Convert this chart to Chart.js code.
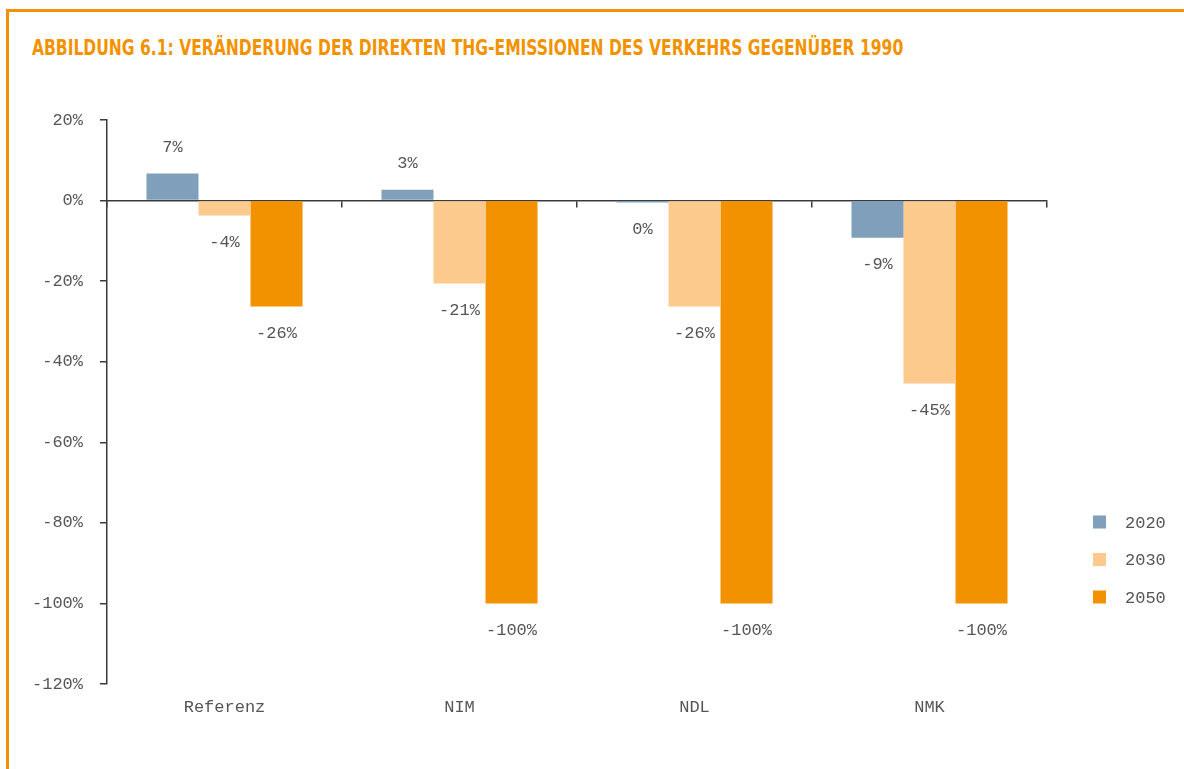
<!DOCTYPE html>
<html lang="de">
<head>
<meta charset="utf-8">
<title>Abbildung 6.1</title>
<script src="https://cdn.jsdelivr.net/npm/chart.js@4/dist/chart.umd.min.js"></script>
<style>
  html, body { margin: 0; padding: 0; background: #fff; }
  body { width: 1184px; height: 769px; position: relative; overflow: hidden; }
  .frame {
    position: absolute; left: 6px; top: 9px; right: 0; bottom: 0;
    border-top: 3px solid #F39200; border-left: 3px solid #F39200;
  }
  h1 {
    position: absolute; left: 32px; top: 37px; margin: 0;
    font: bold 22px/22px 'Liberation Sans Narrow', 'DejaVu Sans Condensed', sans-serif;
    font-stretch: condensed;
    color: #F39200; white-space: nowrap; transform-origin: 0 0;
  }
  #chart { position: absolute; left: 0; top: 0; }
</style>
</head>
<body>
<div class="frame"></div>
<h1 id="title">ABBILDUNG 6.1: VERÄNDERUNG DER DIREKTEN THG-EMISSIONEN DES VERKEHRS GEGENÜBER 1990</h1>
<canvas id="chart" width="1184" height="769"></canvas>
<script>
// squeeze the headline to its fixed width
const title = document.getElementById("title");
title.style.transform = "scaleX(" + (871 / title.offsetWidth) + ")";

// =======================
// Data
// =======================

const categories = ["Referenz", "NIM", "NDL", "NMK"];
const years = ["2020", "2030", "2050"];
const values2020 = [6.7, 2.7, -0.5, -9.2];
const values2030 = [-3.7, -20.6, -26.3, -45.4];
const values2050 = [-26.3, -100, -100, -100];
const yTicks = [20, 0, -20, -40, -60, -80, -100, -120];

const colors = ["#7F9FBA", "#FDCA8E", "#F39200"];
const textFont = { family: "'Liberation Mono', monospace", size: 17 };
const textColor = "#555555";
const axisColor = "#3a3a3a";

// =======================
// Plugins
// =======================

// percent labels above / below each bar end
const valueLabels = {
  id: "valueLabels",
  afterDatasetsDraw(chart) {
    const ctx = chart.ctx;
    ctx.save();
    ctx.font = textFont.size + "px " + textFont.family;
    ctx.fillStyle = textColor;
    ctx.textAlign = "center";
    ctx.textBaseline = "middle";
    chart.data.datasets.forEach((ds, i) => {
      chart.getDatasetMeta(i).data.forEach((bar, j) => {
        const v = ds.data[j];
        const y = v >= 0 ? bar.y - 26 : bar.y + 27;
        ctx.fillText(Math.round(v) + "%", bar.x, y);
      });
    });
    ctx.restore();
  }
};

// legend stacked at the lower right
const sideLegend = {
  id: "sideLegend",
  afterDraw(chart) {
    const ctx = chart.ctx;
    ctx.save();
    ctx.font = textFont.size + "px " + textFont.family;
    ctx.textBaseline = "middle";
    ctx.textAlign = "left";
    chart.data.datasets.forEach((ds, i) => {
      const y = 522 + i * 37.5;
      ctx.fillStyle = ds.backgroundColor;
      ctx.fillRect(1093, y - 6.5, 13, 13);
      ctx.fillStyle = textColor;
      ctx.fillText(ds.label, 1125, y + 1);
    });
    ctx.restore();
  }
};

// =======================
// Bar Chart
// =======================

const chartEl = document.getElementById("chart");

new Chart(chartEl, {
  type: "bar",
  data: {
    labels: categories,
    datasets: [
      { label: years[0], data: values2020, backgroundColor: colors[0] },
      { label: years[1], data: values2030, backgroundColor: colors[1] },
      { label: years[2], data: values2050, backgroundColor: colors[2] }
    ]
  },
  options: {
    responsive: false,
    animation: false,
    devicePixelRatio: 1,
    categoryPercentage: 0.664,
    barPercentage: 1,
    layout: { padding: { top: 120, right: 137, bottom: 0, left: 0 } },
    plugins: {
      legend: { display: false },
      tooltip: { enabled: false }
    },
    scales: {
      x: {
        position: "bottom",
        grid: { display: false },
        border: { display: false },
        ticks: { font: textFont, color: textColor, padding: 5 },
        afterFit(scale) { scale.height = 85; }
      },
      x2: {
        type: "category",
        labels: categories,
        position: { y: 0 },
        offset: true,
        grid: { offset: true, drawOnChartArea: false, tickLength: 6, color: axisColor, lineWidth: 1.5 },
        border: { display: true, color: axisColor, width: 1.5 },
        ticks: { display: false }
      },
      y: {
        min: -120,
        max: 20,
        afterBuildTicks(scale) { scale.ticks = yTicks.map(v => ({ value: v })); },
        grid: { drawOnChartArea: false, tickLength: 7, color: axisColor, lineWidth: 1.5 },
        border: { display: true, color: axisColor, width: 1.5 },
        ticks: {
          font: textFont,
          color: textColor,
          padding: 17,
          callback: v => v + "%"
        },
        afterFit(scale) { scale.width = 107; }
      }
    }
  },
  plugins: [valueLabels, sideLegend]
});
</script>
</body>
</html>
